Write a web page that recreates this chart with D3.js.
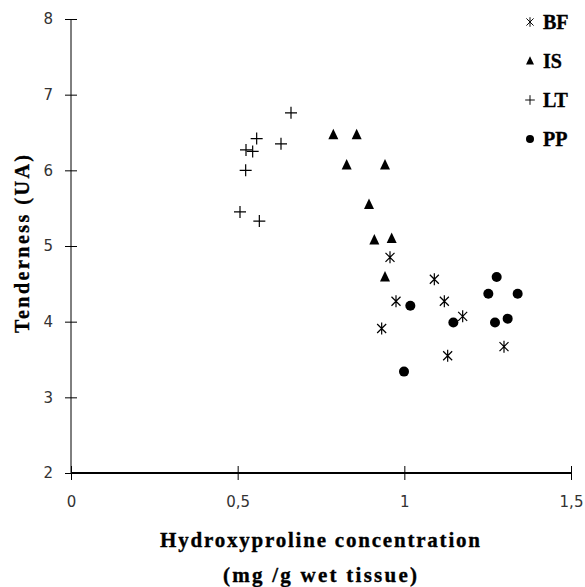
<!DOCTYPE html>
<html>
<head>
<meta charset="utf-8">
<script src="https://cdn.jsdelivr.net/npm/d3@7"></script>
<style>
  body { margin: 0; background: #fff; }
  .title { font-family: "Liberation Serif", "Times New Roman", serif; font-weight: bold; fill: #000; stroke: #000; stroke-width: 0.35px; }
</style>
</head>
<body>
<svg id="chart"></svg>
<script>
// data: hydroxyproline (mg/g) vs tenderness (UA), per muscle
const bfX = [0.957, 1.09, 0.975, 1.12, 1.175, 0.932, 1.299, 1.13];
const bfY = [4.85, 4.56, 4.27, 4.27, 4.07, 3.91, 3.67, 3.55];
const isX = [0.787, 0.857, 0.827, 0.942, 0.894, 0.91, 0.962, 0.942];
const isY = [6.47, 6.47, 6.07, 6.07, 5.55, 5.08, 5.10, 4.59];
const ltX = [0.66, 0.557, 0.63, 0.525, 0.545, 0.524, 0.507, 0.565];
const ltY = [6.76, 6.42, 6.35, 6.27, 6.25, 6.0, 5.45, 5.33];
const ppX = [1.277, 1.252, 1.34, 1.018, 1.147, 1.272, 1.31, 0.999];
const ppY = [4.59, 4.37, 4.37, 4.21, 3.99, 3.99, 4.04, 3.34];
const groups = ['BF', 'IS', 'LT', 'PP'];
const xTicks = [0, 0.5, 1, 1.5];
const yTicks = [2, 3, 4, 5, 6, 7, 8];

const width = 585, height = 587;
const margin = { top: 19, right: 14, bottom: 114, left: 71 };
const innerW = width - margin.left - margin.right;
const innerH = height - margin.top - margin.bottom;

const svg = d3.select('#chart').attr('width', width).attr('height', height);
const chart = svg.append('g').attr('transform', `translate(${margin.left},${margin.top})`);

const xScale = d3.scaleLinear().domain([0, 1.5]).range([0, innerW]);
const yScale = d3.scaleLinear().domain([2, 8]).range([innerH, 0]);
const fmt = d => String(d).replace('.', ',');

// y axis, ticks crossing the line
const yAxisG = chart.append('g')
    .call(d3.axisLeft(yScale).tickValues(yTicks).tickFormat(fmt).tickSize(6).tickPadding(12));
yAxisG.select('.domain').attr('d', `M0,${innerH}V0`).attr('stroke', '#000');
yAxisG.selectAll('.tick line').attr('x2', -6).attr('x1', 6).attr('stroke', '#000');

// x axis
const xAxisG = chart.append('g')
    .attr('transform', `translate(0,${innerH})`)
    .call(d3.axisBottom(xScale).tickValues(xTicks).tickFormat(fmt).tickSize(7).tickPadding(16));
xAxisG.select('.domain').attr('d', `M0,0H${innerW}`).attr('stroke', '#000').attr('stroke-width', 2);
xAxisG.selectAll('.tick line').attr('y1', -7).attr('y2', 7).attr('stroke', '#000');

chart.selectAll('.tick text')
    .attr('font-family', '"DejaVu Sans", Verdana, sans-serif')
    .attr('font-size', 15)
    .attr('fill', '#333');

// markers
const symbols = {
    BF: g => g.append('path').attr('d', 'M0,-6V6M-4.5,-4.5L4.5,4.5M-4.5,4.5L4.5,-4.5')
        .attr('stroke', '#000').attr('stroke-width', 1.2).attr('fill', 'none'),
    IS: g => g.append('path').attr('d', 'M0,-6L5,4.5H-5Z').attr('fill', '#000'),
    LT: g => g.append('path').attr('d', 'M0,-6V6M-6,0H6')
        .attr('stroke', '#000').attr('stroke-width', 1.2).attr('fill', 'none'),
    PP: g => g.append('circle').attr('r', 5).attr('fill', '#000')
};
const series = {
    BF: d3.zip(bfX, bfY), IS: d3.zip(isX, isY), LT: d3.zip(ltX, ltY), PP: d3.zip(ppX, ppY)
};
groups.forEach(k => {
    series[k].forEach(([x, y]) => {
        const g = chart.append('g').attr('transform', `translate(${xScale(x)},${yScale(y)})`);
        symbols[k](g);
    });
});

// legend
const legend = svg.append('g').attr('transform', 'translate(530,22)');
groups.forEach((k, i) => {
    const item = legend.append('g').attr('transform', `translate(0,${i * 39})`);
    const m = item.append('g').attr('transform', 'scale(0.8)');
    symbols[k](m);
    item.append('text').attr('class', 'title')
        .attr('x', 13).attr('y', 7).attr('font-size', '20px').text(k);
});

// axis titles
svg.append('text').attr('class', 'title')
    .attr('x', 320).attr('y', 547).attr('text-anchor', 'middle')
    .attr('font-size', '21px').attr('textLength', 320).text('Hydroxyproline concentration');
svg.append('text').attr('class', 'title')
    .attr('x', 320).attr('y', 582).attr('text-anchor', 'middle')
    .attr('font-size', '21px').attr('textLength', 194).text('(mg /g wet tissue)');
svg.append('text').attr('class', 'title')
    .attr('transform', 'translate(29,244) rotate(-90)').attr('text-anchor', 'middle')
    .attr('font-size', '20px').attr('textLength', 178).text('Tenderness (UA)');
</script>
</body>
</html>
